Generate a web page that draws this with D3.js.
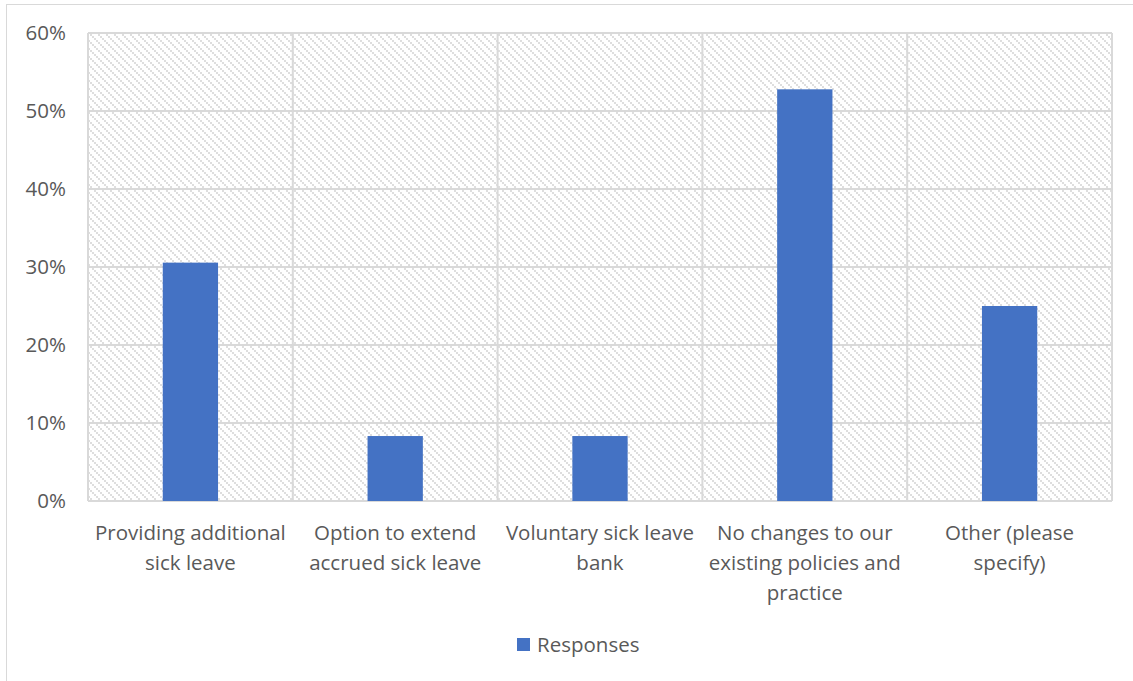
<!DOCTYPE html>
<html>
<head>
<meta charset="utf-8">
<script src="https://cdn.jsdelivr.net/npm/d3@7"></script>
<style>
  html, body { margin: 0; padding: 0; background: #fff; }
  svg { display: block; }
  text { font-family: "Open Sans", Lato, sans-serif; fill: #595959; }
</style>
</head>
<body>
<svg id="chart" width="1133" height="681"></svg>
<script>
// Survey responses: share of respondents choosing each option
const categories = [
  ["Providing additional", "sick leave"],
  ["Option to extend", "accrued sick leave"],
  ["Voluntary sick leave", "bank"],
  ["No changes to our", "existing policies and", "practice"],
  ["Other (please", "specify)"]
];
const responses = [0.3056, 0.0833, 0.0833, 0.5278, 0.25];
const yTicks = [0, 0.1, 0.2, 0.3, 0.4, 0.5, 0.6];
const seriesName = "Responses";

const svg = d3.select("#chart");
const W = 1133, H = 681;
const plot = { left: 88, right: 1112, top: 33, bottom: 501 };
const barColor = "#4472C4";
const gridColor = "#d9d9d9";
const fontSize = 20.5;

// chart frame (only top/left edges fall inside the canvas)
svg.append("rect")
  .attr("x", 6.5).attr("y", 4.5)
  .attr("width", W).attr("height", H)
  .attr("fill", "#fff").attr("stroke", gridColor).attr("stroke-width", 1);

// diagonal hatch used as plot background
const defs = svg.append("defs");
const pat = defs.append("pattern")
  .attr("id", "hatch").attr("patternUnits", "userSpaceOnUse")
  .attr("width", 8).attr("height", 8);
pat.append("rect").attr("width", 8).attr("height", 8).attr("fill", "#fff");
[[0,0],[2,2],[4,4],[6,6]].forEach(([x, y]) => {
  pat.append("rect").attr("x", x).attr("y", y).attr("width", 2).attr("height", 2).attr("fill", "#dedede");
});

const x = d3.scaleBand()
  .domain(d3.range(categories.length))
  .range([plot.left, plot.right])
  .paddingInner(0).paddingOuter(0);
const y = d3.scaleLinear().domain([0, 0.6]).range([plot.bottom, plot.top]);

svg.append("rect")
  .attr("x", plot.left).attr("y", plot.top)
  .attr("width", plot.right - plot.left).attr("height", plot.bottom - plot.top)
  .attr("fill", "url(#hatch)");

// horizontal gridlines
svg.append("g").selectAll("line").data(yTicks).join("line")
  .attr("x1", plot.left).attr("x2", plot.right)
  .attr("y1", d => y(d)).attr("y2", d => y(d))
  .attr("stroke", gridColor).attr("stroke-width", 2);

// vertical gridlines at category boundaries
const bounds = d3.range(categories.length + 1).map(i => plot.left + i * x.bandwidth());
svg.append("g").selectAll("line").data(bounds).join("line")
  .attr("x1", d => d).attr("x2", d => d)
  .attr("y1", plot.top).attr("y2", plot.bottom)
  .attr("stroke", gridColor).attr("stroke-width", 2);

// bars
const barW = x.bandwidth() * 0.27;
svg.append("g").selectAll("rect").data(responses).join("rect")
  .attr("x", (d, i) => x(i) + (x.bandwidth() - barW) / 2)
  .attr("y", d => y(d))
  .attr("width", barW)
  .attr("height", d => y(0) - y(d))
  .attr("fill", barColor);

// y axis labels
const yAxis = d3.axisLeft(y).tickValues(yTicks).tickFormat(d3.format(".0%")).tickSize(0).tickPadding(22);
const gy = svg.append("g").attr("transform", `translate(${plot.left},0)`).call(yAxis);
gy.select(".domain").remove();
gy.selectAll("text").attr("font-size", fontSize).attr("fill", "#595959")
  .style("font-family", "'Open Sans', Lato, sans-serif");

// category labels
const xl = svg.append("g").selectAll("text").data(categories).join("text")
  .attr("text-anchor", "middle")
  .attr("font-size", fontSize)
  .attr("x", (d, i) => x(i) + x.bandwidth() / 2)
  .attr("y", 540);
xl.selectAll("tspan").data(d => d).join("tspan")
  .attr("x", function() { return d3.select(this.parentNode).attr("x"); })
  .attr("dy", (d, i) => i === 0 ? 0 : 30)
  .text(d => d);

// legend
const lg = svg.append("g").attr("transform", "translate(517,638)");
lg.append("rect").attr("width", 13).attr("height", 13).attr("fill", barColor);
lg.append("text").attr("x", 20).attr("y", 14).attr("font-size", fontSize).text(seriesName);
</script>
</body>
</html>
